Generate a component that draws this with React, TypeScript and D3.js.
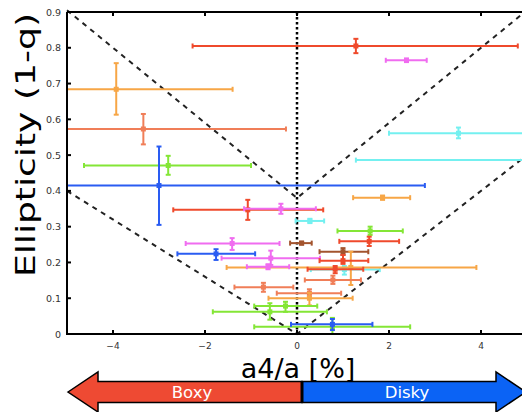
import React, { useEffect, useRef } from "react";
import * as d3 from "d3";

const xVal = [1.28, 2.38, -3.93, -3.34, 3.51, 5.6, -2.8, -3.0, 1.86, -1.07, -0.35, 0.28, 1.59, 1.57, -1.41, 0.1, -1.76, 1.0, 1.03, 1.17, -0.57, 1.0, -0.63, 0.83, 0.78, -0.73, 0.27, 0.27, -0.25, -0.59, 0.77, 0.77];
const yVal = [0.805, 0.765, 0.684, 0.573, 0.561, 0.486, 0.471, 0.415, 0.381, 0.347, 0.35, 0.316, 0.288, 0.259, 0.253, 0.254, 0.224, 0.23, 0.18, 0.186, 0.212, 0.205, 0.188, 0.181, 0.151, 0.131, 0.114, 0.1, 0.078, 0.062, 0.02, 0.027];
const xLow = [-2.27, 1.93, -5.3, -5.3, 2.0, 1.28, -4.63, -5.5, 1.22, -2.69, -1.15, -0.03, 0.88, 0.92, -2.42, -0.15, -2.6, 0.49, 0.3, -1.53, -1.64, 0.49, -1.09, 0.23, 0.17, -1.36, -0.44, -0.62, -0.93, -1.83, -0.93, -0.13];
const xHigh = [4.8, 2.82, -1.4, -0.24, 5.6, 6.5, -1.0, 2.78, 2.46, 0.57, 0.41, 0.59, 2.3, 2.22, -0.38, 0.32, -0.91, 1.55, 1.8, 3.9, 0.5, 1.55, -0.17, 1.44, 1.39, -0.08, 0.96, 1.21, 0.44, 0.65, 2.46, 1.64];
const yLow = [0.785, 0.76, 0.613, 0.53, 0.547, 0.476, 0.445, 0.305, 0.375, 0.319, 0.336, 0.31, 0.277, 0.246, 0.235, 0.25, 0.207, 0.221, 0.166, 0.137, 0.193, 0.196, 0.181, 0.17, 0.14, 0.118, 0.105, 0.08, 0.062, 0.04, 0.0, 0.011];
const yHigh = [0.825, 0.77, 0.757, 0.615, 0.577, 0.496, 0.498, 0.524, 0.387, 0.375, 0.364, 0.322, 0.3, 0.272, 0.268, 0.258, 0.237, 0.24, 0.19, 0.23, 0.233, 0.221, 0.195, 0.19, 0.163, 0.143, 0.125, 0.115, 0.09, 0.086, 0.045, 0.042];
const pointColor = ["red", "magenta", "orange", "salmon", "cyan", "cyan", "green", "blue", "orange", "red", "magenta", "cyan", "green", "red", "magenta", "brown", "blue", "brown", "cyan", "orange", "magenta", "red", "magenta", "red", "salmon", "salmon", "salmon", "orange", "green", "green", "green", "blue"];

const palette: Record<string, string> = {
  red: "#ef4a2c",
  orange: "#f7a646",
  salmon: "#f07e58",
  magenta: "#f06cf0",
  cyan: "#74f0f0",
  green: "#84e636",
  blue: "#2a5cf2",
  brown: "#a3542e",
};

const xTicks = [-4, -2, 0, 2, 4];
const yTicks = [0, 0.1, 0.2, 0.3, 0.4, 0.5, 0.6, 0.7, 0.8, 0.9];

// guide lines (V shapes)
const upperV = [[-5, 0.905], [0, 0.38], [5, 0.905]];
const lowerV = [[-5, 0.4], [0, 0], [5, 0.5]];

const W = 522;
const H = 412;

const App = () => {
  const svgRef = useRef<SVGSVGElement | null>(null);

  useEffect(() => {
    const svg = d3.select(svgRef.current);
    svg.selectAll("*").remove();

    const x = d3.scaleLinear().domain([-5, 5]).range([67, 527]);
    const y = d3.scaleLinear().domain([0, 0.9]).range([334, 12]);

    const font = "DejaVu Sans, sans-serif";

    svg.append("defs").append("clipPath").attr("id", "plotClip")
      .append("rect")
      .attr("x", 68).attr("y", 0)
      .attr("width", 470).attr("height", 340);

    // guide lines
    const line = d3.line<number[]>().x((d) => x(d[0])).y((d) => y(d[1]));
    [upperV, lowerV].forEach((pts) => {
      svg.append("path")
        .attr("d", line(pts))
        .attr("fill", "none")
        .attr("stroke", "#222")
        .attr("stroke-width", 2)
        .attr("stroke-dasharray", "5,5");
    });

    svg.append("line")
      .attr("x1", x(0)).attr("x2", x(0))
      .attr("y1", y(0.9)).attr("y2", y(0))
      .attr("stroke", "#000")
      .attr("stroke-width", 2.5)
      .attr("stroke-dasharray", "2.5,2.5");

    // error bars
    const g = svg.append("g").attr("clip-path", "url(#plotClip)");
    const cap = 2.5;
    xVal.forEach((xv, i) => {
      const c = palette[pointColor[i]];
      const cx = x(xv);
      const cy = y(yVal[i]);
      const x0 = x(xLow[i]);
      const x1 = x(xHigh[i]);
      const y0 = y(yLow[i]);
      const y1 = y(yHigh[i]);
      const e = g.append("g").attr("stroke", c).attr("stroke-width", 2).attr("fill", c);
      e.append("line").attr("x1", x0).attr("x2", x1).attr("y1", cy).attr("y2", cy);
      e.append("line").attr("x1", x0).attr("x2", x0).attr("y1", cy - cap).attr("y2", cy + cap);
      e.append("line").attr("x1", x1).attr("x2", x1).attr("y1", cy - cap).attr("y2", cy + cap);
      e.append("line").attr("x1", cx).attr("x2", cx).attr("y1", y0).attr("y2", y1);
      e.append("line").attr("x1", cx - cap).attr("x2", cx + cap).attr("y1", y0).attr("y2", y0);
      e.append("line").attr("x1", cx - cap).attr("x2", cx + cap).attr("y1", y1).attr("y2", y1);
      e.append("rect").attr("x", cx - 2.5).attr("y", cy - 2.5).attr("width", 5).attr("height", 5).attr("stroke", "none");
    });

    // axes frame
    const axis = svg.append("g").attr("stroke", "#000").attr("stroke-width", 2);
    axis.append("line").attr("x1", 67).attr("x2", W).attr("y1", y(0)).attr("y2", y(0));
    axis.append("line").attr("x1", 67).attr("x2", W).attr("y1", y(0.9)).attr("y2", y(0.9));
    axis.append("line").attr("x1", 67).attr("x2", 67).attr("y1", y(0.9)).attr("y2", y(0) + 1);

    xTicks.forEach((t) => {
      axis.append("line").attr("x1", x(t)).attr("x2", x(t)).attr("y1", y(0)).attr("y2", y(0) - 4);
      axis.append("line").attr("x1", x(t)).attr("x2", x(t)).attr("y1", y(0.9)).attr("y2", y(0.9) + 4);
      svg.append("text")
        .attr("x", x(t)).attr("y", 349)
        .attr("text-anchor", "middle")
        .attr("font-family", font).attr("font-size", 9)
        .attr("fill", "#333")
        .text(t < 0 ? "\u2212" + Math.abs(t) : String(t));
    });

    yTicks.forEach((t) => {
      if (t > 0 && t < 0.9) {
        axis.append("line").attr("x1", 67).attr("x2", 71).attr("y1", y(t)).attr("y2", y(t));
      }
      svg.append("text")
        .attr("x", 61).attr("y", y(t) + 3.5)
        .attr("text-anchor", "end")
        .attr("font-family", font).attr("font-size", 9.5)
        .attr("fill", "#333")
        .text(t === 0 ? "0" : d3.format(".1f")(t));
    });

    // axis titles
    svg.append("text")
      .attr("transform", `translate(35,145) rotate(-90)`)
      .attr("text-anchor", "middle")
      .attr("font-family", font).attr("font-size", 27)
      .attr("font-weight", 500)
      .attr("fill", "#000")
      .attr("textLength", 264)
      .attr("lengthAdjust", "spacingAndGlyphs")
      .text("Ellipticity (1-q)");

    svg.append("text")
      .attr("x", 298).attr("y", 378)
      .attr("text-anchor", "middle")
      .attr("font-family", font).attr("font-size", 27)
      .attr("fill", "#000")
      .text("a4/a [%]");

    // Boxy / Disky arrows
    const mid = 392;
    const split = 302;
    const left = d3.path();
    left.moveTo(68, mid);
    left.lineTo(98, mid - 20);
    left.lineTo(98, mid - 10.5);
    left.lineTo(split, mid - 10.5);
    left.lineTo(split, mid + 10.5);
    left.lineTo(98, mid + 10.5);
    left.lineTo(98, mid + 20);
    left.closePath();
    svg.append("path").attr("d", left.toString())
      .attr("fill", "#ee4a33").attr("stroke", "#000").attr("stroke-width", 1.5);

    const right = d3.path();
    right.moveTo(526, mid);
    right.lineTo(496, mid - 20);
    right.lineTo(496, mid - 10.5);
    right.lineTo(split, mid - 10.5);
    right.lineTo(split, mid + 10.5);
    right.lineTo(496, mid + 10.5);
    right.lineTo(496, mid + 20);
    right.closePath();
    svg.append("path").attr("d", right.toString())
      .attr("fill", "#0b63f5").attr("stroke", "#000").attr("stroke-width", 1.5);

    svg.append("line")
      .attr("x1", split).attr("x2", split)
      .attr("y1", mid - 10.5).attr("y2", mid + 10.5)
      .attr("stroke", "#000").attr("stroke-width", 3);

    svg.append("text")
      .attr("x", 192).attr("y", mid + 6)
      .attr("text-anchor", "middle")
      .attr("font-family", font).attr("font-size", 16.5)
      .attr("fill", "#fff")
      .text("Boxy");

    svg.append("text")
      .attr("x", 407).attr("y", mid + 6)
      .attr("text-anchor", "middle")
      .attr("font-family", font).attr("font-size", 16.5)
      .attr("fill", "#fff")
      .text("Disky");
  }, []);

  return (
    <svg
      ref={svgRef}
      width={W}
      height={H}
      style={{ position: "absolute", left: 0, top: 0, background: "#fff" }}
    />
  );
};

export default App;
